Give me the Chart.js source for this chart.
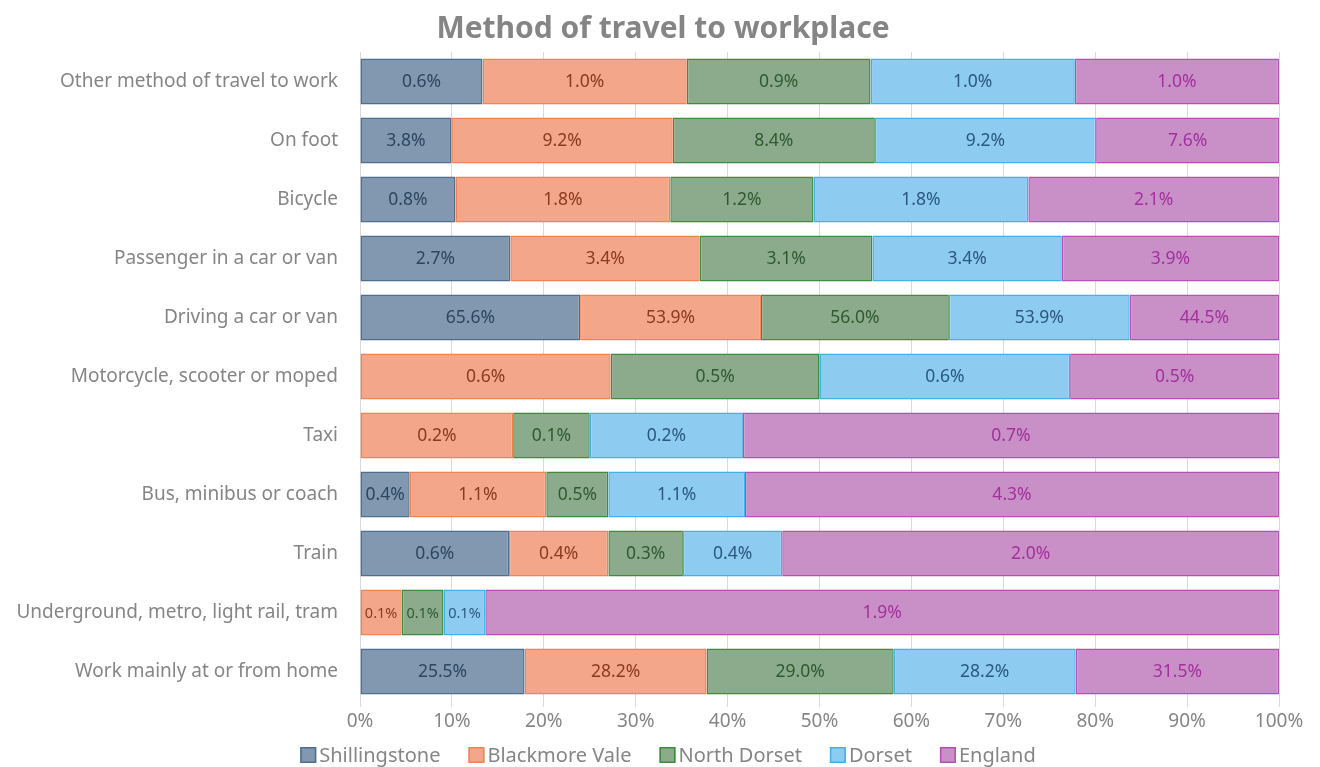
<!DOCTYPE html>
<html>
<head>
<meta charset="utf-8">
<script src="https://cdn.jsdelivr.net/npm/chart.js@4/dist/chart.umd.min.js"></script>
<style>
  html, body { margin: 0; padding: 0; background: #ffffff; }
  #wrap { width: 1320px; height: 767px; }
</style>
</head>
<body>
<div id="wrap"><canvas id="c" width="1320" height="767"></canvas></div>
<script>
// Travel-to-work categories, top row first
const categories = [
  'Other method of travel to work',
  'On foot',
  'Bicycle',
  'Passenger in a car or van',
  'Driving a car or van',
  'Motorcycle, scooter or moped',
  'Taxi',
  'Bus, minibus or coach',
  'Train',
  'Underground, metro, light rail, tram',
  'Work mainly at or from home'
];

// Percentage of workers in each area using each method
const shillingstone = [0.6, 3.8, 0.8, 2.7, 65.6, 0, 0, 0.4, 0.6, 0, 25.5];
const blackmoreVale = [1.0, 9.2, 1.8, 3.4, 53.9, 0.6, 0.2, 1.1, 0.4, 0.1, 28.2];
const northDorset   = [0.9, 8.4, 1.2, 3.1, 56.0, 0.5, 0.1, 0.5, 0.3, 0.1, 29.0];
const dorset        = [1.0, 9.2, 1.8, 3.4, 53.9, 0.6, 0.2, 1.1, 0.4, 0.1, 28.2];
const england       = [1.0, 7.6, 2.1, 3.9, 44.5, 0.5, 0.7, 4.3, 2.0, 1.9, 31.5];

const seriesNames = ['Shillingstone', 'Blackmore Vale', 'North Dorset', 'Dorset', 'England'];
const seriesValues = [shillingstone, blackmoreVale, northDorset, dorset, england];

const xTickLabels = ['0%', '10%', '20%', '30%', '40%', '50%', '60%', '70%', '80%', '90%', '100%'];

const chartTitle = 'Method of travel to workplace';

const fills   = ['#8198b0', '#f4a68b', '#8cab8c', '#8ecbf1', '#c990c7'];
const borders = ['#4d6f8f', '#f2824f', '#3e8b3e', '#41b1ea', '#b64fb3'];
const textCol = ['#2d4560', '#8a3a1f', '#2f5a2f', '#2b587e', '#a3309d'];

// Each row is drawn as a 100% stack: share of the row total
const rowTotals = categories.map((_, i) => seriesValues.reduce((s, arr) => s + arr[i], 0));

const datasets = seriesNames.map((name, k) => ({
  label: name,
  data: seriesValues[k].map((v, i) => v / rowTotals[i] * 100),
  raw: seriesValues[k],
  backgroundColor: fills[k],
  borderColor: borders[k],
  borderWidth: 1.5,
  borderSkipped: false,
  barPercentage: 0.78,
  categoryPercentage: 1.0
}));

const FONT = '"Noto Sans", "Open Sans", sans-serif';
const GREY = '#858585';

// Writes each segment's own value in its middle
const valueLabels = {
  id: 'valueLabels',
  afterDatasetsDraw(chart) {
    const ctx = chart.ctx;
    ctx.save();
    ctx.textAlign = 'center';
    ctx.textBaseline = 'middle';
    chart.data.datasets.forEach((ds, k) => {
      const meta = chart.getDatasetMeta(k);
      meta.data.forEach((bar, i) => {
        const v = ds.raw[i];
        if (!v) return;
        const w = Math.abs(bar.x - bar.base);
        ctx.font = (w < 45 ? '14.5px ' : '17.5px ') + FONT;
        ctx.fillStyle = textCol[k];
        ctx.fillText(v.toFixed(1) + '%', (bar.x + bar.base) / 2, bar.y + 1);
      });
    });
    ctx.restore();
  }
};

// Title across the top and legend row under the axis
const headerAndLegend = {
  id: 'headerAndLegend',
  afterDraw(chart) {
    const ctx = chart.ctx;
    ctx.save();
    ctx.fillStyle = GREY;
    ctx.font = 'bold 30px ' + FONT;
    ctx.textAlign = 'center';
    ctx.textBaseline = 'middle';
    ctx.fillText(chartTitle, 663, 29);

    const box = 16, gapText = 3, gapItem = 28, cy = 755, cx = 668;
    ctx.font = '20px ' + FONT;
    const widths = seriesNames.map(n => ctx.measureText(n).width);
    const total = widths.reduce((s, w) => s + box + gapText + w, 0) + gapItem * (seriesNames.length - 1);
    let x = cx - total / 2;
    seriesNames.forEach((n, k) => {
      ctx.fillStyle = fills[k];
      ctx.fillRect(x, cy - box / 2, box, box);
      ctx.strokeStyle = borders[k];
      ctx.lineWidth = 1.5;
      ctx.strokeRect(x + 0.75, cy - box / 2 + 0.75, box - 1.5, box - 1.5);
      ctx.fillStyle = GREY;
      ctx.textAlign = 'left';
      ctx.fillText(n, x + box + gapText, cy + 1);
      x += box + gapText + widths[k] + gapItem;
    });
    ctx.restore();
  }
};

new Chart(document.getElementById('c'), {
  type: 'bar',
  data: { labels: categories, datasets },
  plugins: [valueLabels, headerAndLegend],
  options: {
    indexAxis: 'y',
    responsive: false,
    animation: false,
    layout: { padding: { left: 0, right: 41, top: 52, bottom: 36 } },
    plugins: {
      title: { display: false },
      legend: { display: false },
      tooltip: { enabled: false }
    },
    scales: {
      x: {
        stacked: true,
        min: 0,
        max: 100,
        ticks: {
          stepSize: 10,
          color: GREY,
          font: { family: FONT, size: 19 },
          padding: 3,
          callback: (v, i) => xTickLabels[i]
        },
        grid: { color: '#d9d9d9', drawTicks: true, tickLength: 6 },
        border: { display: false },
        afterFit(scale) { scale.height = 30; }
      },
      y: {
        stacked: true,
        ticks: {
          color: GREY,
          font: { family: FONT, size: 19 },
          padding: 14
        },
        grid: { display: false },
        border: { display: false },
        afterFit(scale) { scale.width = 360; }
      }
    }
  }
});
</script>
</body>
</html>
